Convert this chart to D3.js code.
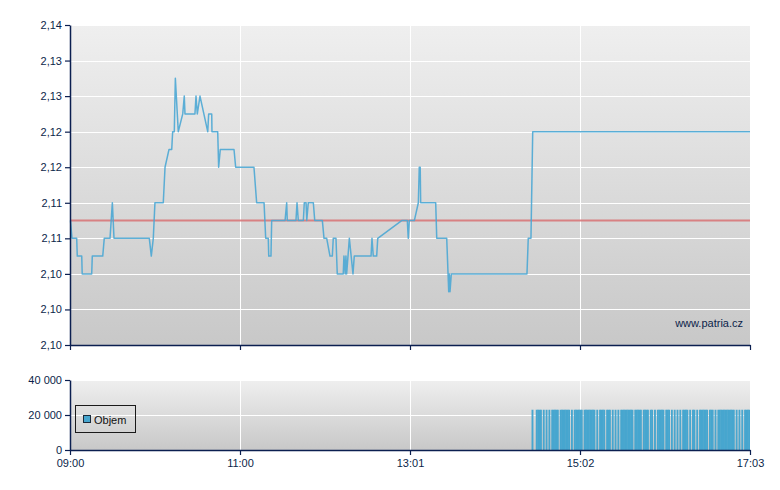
<!DOCTYPE html>
<html>
<head>
<meta charset="utf-8">
<script src="https://cdn.jsdelivr.net/npm/d3@7"></script>
<style>
  html, body { margin: 0; padding: 0; background: #ffffff; }
  svg { display: block; }
  text { font-family: "Liberation Sans", Arial, sans-serif; }
</style>
</head>
<body>
<svg id="chart" width="780" height="490"></svg>
<script>
// ---------------- DATA ----------------
const priceTimes = [
  "09:00:20","09:01:25","09:04:45","09:05:10","09:08:20","09:08:40","09:15:25","09:15:50",
  "09:23:15","09:24:20","09:28:25","09:30:05","09:31:15","09:56:20","09:57:45","09:59:10",
  "10:00:20","10:06:15","10:07:30","10:10:20","10:12:15","10:12:55","10:14:05","10:14:50",
  "10:16:55","10:20:05","10:21:10","10:21:40","10:28:45","10:29:30","10:30:25","10:32:20",
  "10:37:50","10:38:30","10:40:40","10:40:50","10:44:55","10:45:35","10:46:45","10:56:30",
  "10:57:40","11:10:40","11:12:35","11:17:50","11:19:00","11:20:50","11:21:10","11:22:45",
  "11:23:15","11:32:45","11:33:55","11:34:20","11:40:30","11:41:15","11:42:10","11:45:45",
  "11:46:25","11:47:40","11:48:10","11:49:15","11:52:50","11:53:50","11:59:15","12:00:25",
  "12:02:20","12:04:40","12:06:20","12:07:00","12:08:55","12:09:50","12:14:05","12:14:35",
  "12:15:30","12:16:00","12:16:30","12:18:25","12:21:00","12:21:55","12:33:50","12:34:30",
  "12:35:25","12:37:50","12:38:35","12:55:35","12:59:35","13:00:15","13:01:00","13:04:35",
  "13:07:25","13:08:05","13:08:45","13:09:05","13:19:45","13:20:30","13:27:35","13:29:00",
  "13:29:25","13:29:55","13:30:50","14:24:35","14:25:30","14:27:25","14:28:40","17:03:00"
];
const priceValues = [
  2.1125,2.110,2.110,2.1075,2.1075,2.105,2.105,2.1075,
  2.1075,2.110,2.110,2.115,2.110,2.110,2.1075,2.110,
  2.115,2.115,2.120,2.1225,2.1225,2.125,2.125,2.1325,
  2.125,2.1275,2.130,2.1275,2.1275,2.130,2.1275,2.130,
  2.125,2.1275,2.1275,2.125,2.125,2.120,2.1225,2.1225,
  2.120,2.120,2.115,2.115,2.110,2.110,2.1075,2.1075,
  2.1125,2.1125,2.115,2.1125,2.1125,2.115,2.1125,2.1125,
  2.115,2.115,2.1125,2.115,2.115,2.1125,2.1125,2.110,
  2.110,2.1075,2.1075,2.110,2.110,2.105,2.105,2.1075,
  2.105,2.1075,2.105,2.110,2.105,2.1075,2.1075,2.110,
  2.1075,2.1075,2.110,2.1125,2.1125,2.110,2.1125,2.1125,
  2.115,2.120,2.120,2.115,2.115,2.110,2.110,2.1025,
  2.105,2.1025,2.105,2.105,2.110,2.110,2.125,2.125
];
const previousClose = 2.1125;

// per-minute volume, 14:28 .. 17:02
const volumeStart = "14:28:00";
const volumeValues = [
  23000,0,0,23000,23000,23000,23000,0,23000,0,
  23000,0,23000,0,23000,23000,23000,23000,23000,0,
  23000,23000,23000,23000,23000,23000,23000,0,23000,0,
  23000,23000,23000,23000,23000,23000,0,23000,23000,23000,
  23000,23000,23000,23000,23000,0,23000,0,23000,23000,
  23000,23000,0,23000,23000,23000,0,23000,0,23000,
  0,23000,0,23000,23000,23000,23000,23000,23000,23000,
  23000,23000,0,23000,23000,23000,23000,23000,0,23000,
  23000,23000,23000,0,23000,23000,0,23000,0,23000,
  23000,23000,23000,23000,0,23000,23000,23000,0,23000,
  0,23000,0,23000,0,23000,0,23000,23000,23000,
  23000,0,23000,0,23000,23000,0,23000,0,23000,
  23000,23000,23000,23000,23000,0,23000,23000,23000,0,
  23000,0,23000,23000,23000,23000,23000,23000,23000,23000,
  23000,23000,23000,23000,0,23000,0,23000,0,23000,
  0,23000,23000,23000,23000
];

const timeDomain = ["09:00:00","17:03:00"];
const xTickTimes = ["09:00:00","11:00:45","13:01:30","15:02:15","17:03:00"];
const xTickLabels = ["09:00","11:00","13:01","15:02","17:03"];

const priceDomain = [2.095, 2.140];
const priceTicks = [2.095,2.100,2.105,2.110,2.115,2.120,2.125,2.130,2.135,2.140];
const priceTickLabels = ["2,10","2,10","2,10","2,11","2,11","2,12","2,12","2,13","2,13","2,14"];

const volumeDomain = [0, 40000];
const volumeTicks = [0, 20000, 40000];
const volumeTickLabels = ["0","20 000","40 000"];

const legendLabel = "Objem";
const watermark = "www.patria.cz";

// ---------------- LAYOUT ----------------
const L = 70, R = 750;
const mainTop = 25, mainBottom = 345;
const volTop = 380, volBottom = 450;
const navy = "#0b1f50";
const textColor = "#0c1f4a";
const lineBlue = "#4ba7d4";
const barBlue = "#47a6cf";

const parse = d3.timeParse("%H:%M:%S");
const svg = d3.select("#chart");

const x = d3.scaleTime().domain(timeDomain.map(parse)).range([L, R]);
const y = d3.scaleLinear().domain(priceDomain).range([mainBottom, mainTop]);
const yv = d3.scaleLinear().domain(volumeDomain).range([volBottom, volTop]);

// gradient
const defs = svg.append("defs");
const grad = defs.append("linearGradient").attr("id", "bg")
  .attr("x1", 0).attr("y1", 0).attr("x2", 0).attr("y2", 1);
grad.append("stop").attr("offset", "0%").attr("stop-color", "#efefef");
grad.append("stop").attr("offset", "100%").attr("stop-color", "#c8c8c8");

// panels
svg.append("rect").attr("x", L).attr("y", mainTop).attr("width", R - L).attr("height", mainBottom - mainTop).attr("fill", "url(#bg)");
svg.append("rect").attr("x", L).attr("y", volTop).attr("width", R - L).attr("height", volBottom - volTop).attr("fill", "url(#bg)");

const tickDates = xTickTimes.map(parse);

// grid - main
const gMain = svg.append("g");
gMain.selectAll("line.h").data(priceTicks.slice(1)).join("line")
  .attr("x1", L).attr("x2", R).attr("y1", d => Math.round(y(d)) + 0.5).attr("y2", d => Math.round(y(d)) + 0.5)
  .attr("stroke", "#ffffff").attr("stroke-width", 1);
gMain.selectAll("line.v").data(tickDates.slice(1)).join("line")
  .attr("x1", d => Math.round(x(d)) + 0.5).attr("x2", d => Math.round(x(d)) + 0.5)
  .attr("y1", mainTop).attr("y2", mainBottom)
  .attr("stroke", "#ffffff").attr("stroke-width", 1);

// grid - volume
const gVol = svg.append("g");
gVol.selectAll("line.h").data(volumeTicks.slice(1)).join("line")
  .attr("x1", L).attr("x2", R).attr("y1", d => Math.round(yv(d)) + 0.5).attr("y2", d => Math.round(yv(d)) + 0.5)
  .attr("stroke", "#ffffff").attr("stroke-width", 1);
gVol.selectAll("line.v").data(tickDates.slice(1)).join("line")
  .attr("x1", d => Math.round(x(d)) + 0.5).attr("x2", d => Math.round(x(d)) + 0.5)
  .attr("y1", volTop).attr("y2", volBottom)
  .attr("stroke", "#ffffff").attr("stroke-width", 1);

// previous close line
svg.append("line")
  .attr("x1", L).attr("x2", R)
  .attr("y1", y(previousClose)).attr("y2", y(previousClose))
  .attr("stroke", "#d9787a").attr("stroke-width", 2).attr("opacity", 0.9);

// price line
const priceData = priceTimes.map((t, i) => ({ t: parse(t), v: priceValues[i] }));
const line = d3.line().x(d => x(d.t)).y(d => y(d.v));
svg.append("path").datum(priceData)
  .attr("d", line)
  .attr("fill", "none")
  .attr("stroke", lineBlue)
  .attr("stroke-width", 1.5)
  .attr("stroke-linejoin", "round")
  .attr("opacity", 0.9);

// watermark
svg.append("text").attr("x", 743).attr("y", 327).attr("text-anchor", "end")
  .attr("font-size", 11).attr("fill", textColor).text(watermark);

// volume bars
const vStart = parse(volumeStart);
const volData = volumeValues.map((v, i) => ({ t: d3.timeMinute.offset(vStart, i), v }));
svg.append("g").selectAll("rect").data(volData.filter(d => d.v > 0)).join("rect")
  .attr("x", d => x(d.t) - 0.25)
  .attr("width", d => Math.min(R, x(d3.timeMinute.offset(d.t, 1)) + 0.25) - (x(d.t) - 0.25))
  .attr("y", d => yv(d.v))
  .attr("height", d => volBottom - yv(d.v))
  .attr("fill", barBlue);

// axes
function styleAxis(g) {
  g.selectAll("path.domain").attr("stroke", navy).attr("stroke-width", 1.5);
  g.selectAll(".tick line").attr("stroke", navy).attr("stroke-width", 1.2);
  g.selectAll(".tick text").attr("fill", textColor).attr("font-size", 11)
    .attr("font-family", "'Liberation Sans', Arial, sans-serif");
}

svg.append("g").attr("transform", `translate(${L},0)`)
  .call(d3.axisLeft(y).tickValues(priceTicks).tickFormat((d, i) => priceTickLabels[i]).tickSize(5).tickSizeOuter(0).tickPadding(3))
  .call(styleAxis);
svg.append("g").attr("transform", `translate(0,${mainBottom})`)
  .call(d3.axisBottom(x).tickValues(tickDates).tickFormat("").tickSize(5).tickSizeOuter(0))
  .call(styleAxis);

svg.append("g").attr("transform", `translate(${L},0)`)
  .call(d3.axisLeft(yv).tickValues(volumeTicks).tickFormat((d, i) => volumeTickLabels[i]).tickSize(5).tickSizeOuter(0).tickPadding(3))
  .call(styleAxis);
svg.append("g").attr("transform", `translate(0,${volBottom})`)
  .call(d3.axisBottom(x).tickValues(tickDates).tickFormat((d, i) => xTickLabels[i]).tickSize(5).tickSizeOuter(0).tickPadding(4))
  .call(styleAxis);

// legend
const lg = svg.append("g");
lg.append("rect").attr("x", 75.5).attr("y", 405.5).attr("width", 60).attr("height", 27)
  .attr("fill", "none").attr("stroke", "#1a1a1a").attr("stroke-width", 1);
lg.append("rect").attr("x", 83.5).attr("y", 415.5).attr("width", 7).attr("height", 7)
  .attr("fill", barBlue).attr("stroke", "#1a2a3a").attr("stroke-width", 1);
lg.append("text").attr("x", 94).attr("y", 424).attr("font-size", 11).attr("fill", "#111").text(legendLabel);
</script>
</body>
</html>
